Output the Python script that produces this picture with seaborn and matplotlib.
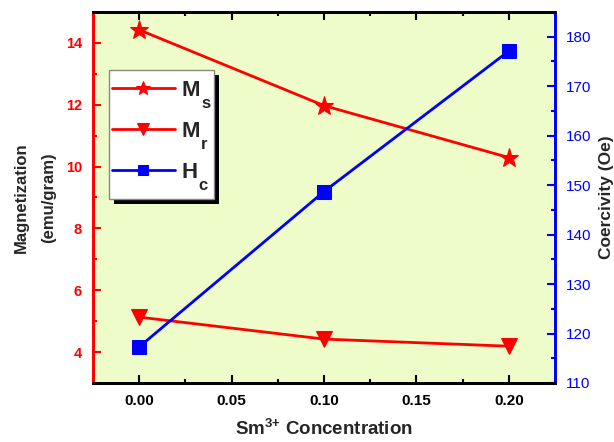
import matplotlib
matplotlib.use("Agg")
import matplotlib.pyplot as plt
import seaborn as sns
import pandas as pd
from matplotlib.ticker import MultipleLocator
from matplotlib.patches import Rectangle

sns.set_theme(style="ticks")
plt.rcParams['font.family'] = ['Liberation Sans', 'DejaVu Sans']
plt.rcParams['mathtext.fontset'] = 'custom'
plt.rcParams['mathtext.rm'] = 'Liberation Sans:bold'
plt.rcParams['mathtext.bf'] = 'Liberation Sans:bold'
plt.rcParams['mathtext.it'] = 'Liberation Sans:bold'

conc = [0.00, 0.10, 0.20]
ms = [14.42, 11.97, 10.29]
mr = [5.13, 4.42, 4.19]
hc = [117.3, 148.7, 177.1]
legend_main = ['M', 'M', 'H']
legend_sub = ['s', 'r', 'c']

df = pd.DataFrame({"conc": conc, "Ms": ms, "Mr": mr, "Hc": hc})

fig = plt.figure(figsize=(6.14, 4.42), dpi=100)
ax = fig.add_axes([0.1515, 0.1335, 0.7525, 0.8395])
ax.set_facecolor('#EDFCC9')
ax2 = ax.twinx()

sns.lineplot(data=df, x="conc", y="Ms", ax=ax, color='red', lw=2, marker='*',
             markersize=14, markeredgecolor='red', label='Ms', legend=False)
sns.lineplot(data=df, x="conc", y="Mr", ax=ax, color='red', lw=2, marker='v',
             markersize=11, markeredgecolor='red', label='Mr', legend=False)
sns.lineplot(data=df, x="conc", y="Hc", ax=ax2, color='blue', lw=2, marker='s',
             markersize=10, markeredgecolor='blue', label='Hc', legend=False)

ax.set_xlim(-0.025, 0.225)
ax.set_ylim(3, 15)
ax2.set_ylim(110, 185)

ax.xaxis.set_major_locator(MultipleLocator(0.05))
ax.xaxis.set_minor_locator(MultipleLocator(0.025))
ax.yaxis.set_major_locator(MultipleLocator(2))
ax.yaxis.set_minor_locator(MultipleLocator(1))
ax2.yaxis.set_major_locator(MultipleLocator(10))
ax2.yaxis.set_minor_locator(MultipleLocator(5))
ax.set_xticks([0.0, 0.05, 0.10, 0.15, 0.20])
ax.set_xticklabels(['0.00', '0.05', '0.10', '0.15', '0.20'])
ax.set_yticks([4, 6, 8, 10, 12, 14])

ax.tick_params(axis='x', which='both', direction='in', top=True, colors='black',
               labelsize=11, width=1.5, pad=8)
ax.tick_params(axis='x', which='major', length=6)
ax.tick_params(axis='x', which='minor', length=3)
ax.tick_params(axis='y', which='both', direction='in', colors='red', labelsize=10.5, width=1.5, pad=8)
ax.tick_params(axis='y', which='major', length=6)
ax.tick_params(axis='y', which='minor', length=3)
ax2.tick_params(axis='y', which='both', direction='in', colors='blue', labelsize=11, width=1.5, pad=8)
ax2.tick_params(axis='y', which='major', length=6)
ax2.tick_params(axis='y', which='minor', length=3)
for lab in ax.get_xticklabels() + ax.get_yticklabels():
    lab.set_fontweight('bold')

for a in (ax, ax2):
    for s in a.spines.values():
        s.set_linewidth(2)
    a.spines['left'].set_color('red')
    a.spines['right'].set_color('blue')
    a.spines['top'].set_color('black')
    a.spines['bottom'].set_color('black')

ax.set_xlabel(r'Sm$^{\text{3+}}$ Concentration', fontsize=13.5, fontweight='bold', labelpad=8)
ax.set_ylabel('Magnetization\n(emu/gram)', fontsize=12, fontweight='bold', labelpad=7,
              linespacing=2.0)
ax2.set_ylabel('Coercivity (Oe)', fontsize=12.5, fontweight='bold', labelpad=5)

h1, _ = ax.get_legend_handles_labels()
h2, _ = ax2.get_legend_handles_labels()
leg = ax2.legend(h1 + h2, legend_main, loc='upper left', bbox_to_anchor=(0.04, 0.816),
                 prop={'size': 16, 'weight': 'bold'}, frameon=False,
                 handlelength=2.85, labelspacing=0.9, borderpad=0, handletextpad=0.3,
                 borderaxespad=0, markerscale=0.75)
leg.set_zorder(10)

fig.canvas.draw()
W, H = fig.bbox.width, fig.bbox.height
ext = leg.get_window_extent()
subs = []
for t, sub in zip(leg.get_texts(), legend_sub):
    bb = t.get_window_extent()
    st = ax2.text((bb.x1 + 1) / W, (bb.y0 + 5) / H, sub, fontsize=12, fontweight='bold',
                  ha='left', va='top', zorder=11, transform=fig.transFigure)
    subs.append(st)
fig.canvas.draw()
xmax = max([ext.x1] + [st.get_window_extent().x1 for st in subs])
ymin = min([ext.y0] + [st.get_window_extent().y0 for st in subs])

x0, x1 = ext.x0 - 3, xmax + 4
y0, y1 = ymin - 6, ext.y1 + 10
frame = Rectangle((x0 / W, y0 / H), (x1 - x0) / W, (y1 - y0) / H,
                  transform=fig.transFigure, facecolor='white', edgecolor='#888888',
                  lw=1, zorder=9.5, clip_on=False)
shadow = Rectangle(((x0 + 5) / W, (y0 - 5) / H), (x1 - x0) / W, (y1 - y0) / H,
                   transform=fig.transFigure, facecolor='black', edgecolor='none',
                   zorder=9, clip_on=False)
ax2.add_patch(shadow)
ax2.add_patch(frame)

fig.savefig('out.png', dpi=100, facecolor='white')
